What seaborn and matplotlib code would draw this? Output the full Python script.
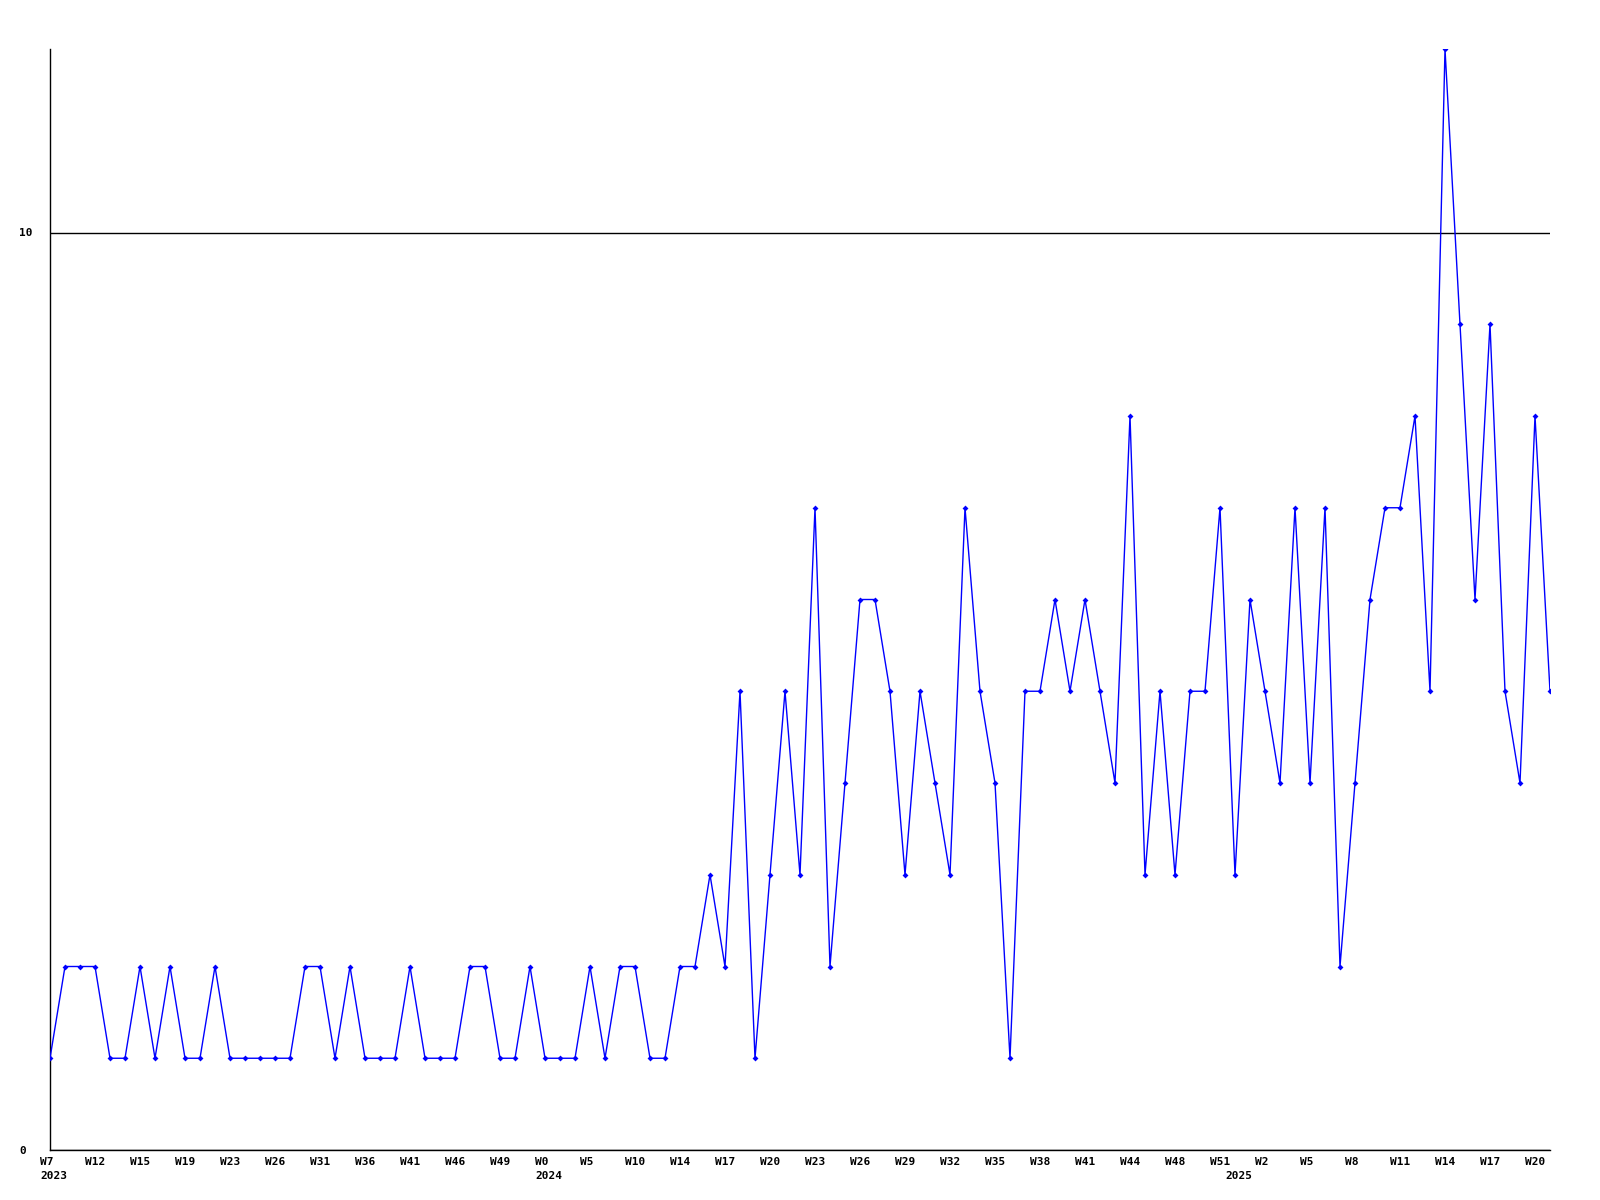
import pandas as pd
import matplotlib
matplotlib.use('Agg')
import matplotlib.pyplot as plt
import matplotlib.transforms as mtransforms
import seaborn as sns

# weekly counts, W7 2023 .. W20 2025
counts = [1, 2, 2, 2, 1, 1, 2, 1, 2, 1, 1, 2, 1, 1, 1, 1, 1, 2, 2, 1,
          2, 1, 1, 1, 2, 1, 1, 1, 2, 2, 1, 1, 2, 1, 1, 1, 2, 1, 2, 2,
          1, 1, 2, 2, 3, 2, 5, 1, 3, 5, 3, 7, 2, 4, 6, 6, 5, 3, 5, 4,
          3, 7, 5, 4, 1, 5, 5, 6, 5, 6, 5, 4, 8, 3, 5, 3, 5, 5, 7, 3,
          6, 5, 4, 7, 4, 7, 2, 4, 6, 7, 7, 8, 5, 12, 9, 6, 9, 5, 4, 8, 5]

week_labels = ['W7', 'W12', 'W15', 'W19', 'W23', 'W26', 'W31', 'W36', 'W41',
               'W46', 'W49', 'W0', 'W5', 'W10', 'W14', 'W17', 'W20', 'W23',
               'W26', 'W29', 'W32', 'W35', 'W38', 'W41', 'W44', 'W48', 'W51',
               'W2', 'W5', 'W8', 'W11', 'W14', 'W17', 'W20']
year_labels = ['2023', '2024', '2025']
year_weeks = [0, 33, 79]  # week index where each year label sits

df = pd.DataFrame({'week': range(len(counts)), 'count': counts})

sns.set_style('white')
plt.rcParams['font.family'] = ['DejaVu Sans Mono']
plt.rcParams['font.weight'] = 'bold'
plt.rcParams['text.color'] = 'black'
plt.rcParams['xtick.color'] = 'black'
plt.rcParams['ytick.color'] = 'black'

fig = plt.figure(figsize=(16, 12), dpi=100)
ax = fig.add_axes([50 / 1600, 50 / 1200, 1500 / 1600, 1101 / 1200])

sns.lineplot(data=df, x='week', y='count', ax=ax, color='#0000ff', lw=1,
             marker='D', markersize=3, markeredgewidth=0, zorder=3)

ax.set_xlim(0, len(counts) - 1)
ax.set_ylim(0, 12)
ax.set_xlabel('')
ax.set_ylabel('')

for s in ['top', 'right']:
    ax.spines[s].set_visible(False)
for s in ['left', 'bottom']:
    ax.spines[s].set_color('black')
    ax.spines[s].set_linewidth(1)

ax.set_yticks([0, 10])
ax.set_yticklabels(['0', '10'], fontsize=8, fontweight='bold')
ax.grid(axis='y', color='black', lw=1)
ax.grid(axis='x', visible=False)
ax.tick_params(axis='y', length=0, pad=0)
for lab in ax.get_yticklabels():
    lab.set_ha('left')
    lab.set_transform(lab.get_transform() +
                      mtransforms.ScaledTranslation(-0.31, 0, fig.dpi_scale_trans))

ax.set_xticks(range(0, len(counts) - 1, 3))
ax.set_xticklabels(week_labels, fontsize=8, fontweight='bold')
ax.tick_params(axis='x', length=0, pad=5)
shift = mtransforms.ScaledTranslation(-0.10, 0, fig.dpi_scale_trans)
for lab in ax.get_xticklabels():
    lab.set_ha('left')
    lab.set_transform(lab.get_transform() + shift)

ytrans = mtransforms.blended_transform_factory(ax.transData, ax.transAxes)
for yl, wk in zip(year_labels, year_weeks):
    ax.text(wk, -0.024, yl, transform=ytrans + shift, ha='left', va='center',
            fontsize=8, fontweight='bold', color='black')

plt.savefig('out.png', dpi=100)
